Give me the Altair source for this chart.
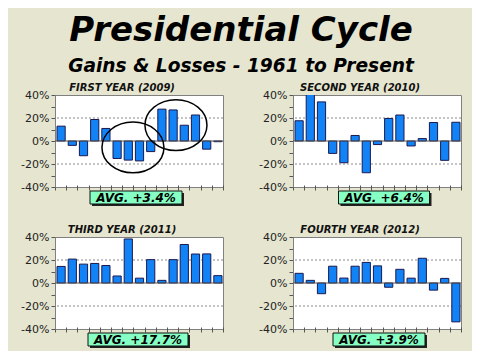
import altair as alt
import pandas as pd

# ---- data (annual % change) ----
FIRST = [12.9, -3.8, -12.8, 18.7, 10.9, -15.2, -16.6, -17.3, -9.2, 27.7, 27.0, 13.7, 22.6, -7.1, -0.6]
SECOND = [17.6, 44.0, 34.0, -10.8, -18.9, 4.8, -27.6, -3.1, 19.6, 22.6, -4.3, 2.1, 16.1, -16.8, 16.3]
THIRD = [14.4, 20.8, 16.4, 17.0, 15.2, 6.1, 38.3, 4.2, 20.3, 2.3, 20.3, 33.5, 25.2, 25.3, 6.4]
FOURTH = [8.4, 2.3, -9.3, 14.6, 4.3, 14.6, 17.9, 14.9, -3.7, 11.9, 4.2, 21.5, -6.2, 4.0, -33.8]

PANEL_TITLES = ["FIRST YEAR (2009)", "SECOND YEAR (2010)", "THIRD YEAR (2011)", "FOURTH YEAR (2012)"]
AVG_LABELS = ["AVG. +3.4%", "AVG. +6.4%", "AVG. +17.7%", "AVG. +3.9%"]
MAIN_TITLE = "Presidential Cycle"
SUBTITLE = "Gains & Losses - 1961 to Present"

Y_TICKS = [-40, -30, -20, -10, 0, 10, 20, 30, 40]
GRID_LEVELS = [-20, 20]
ZERO_LEVEL = [0]

# annotation ellipses on the first panel (slot units, % units)
CIRCLE_X = [6.96, 10.8]
CIRCLE_Y = [-5.6, 13.8]

# ---- styles / layout ----
FONT = "DejaVu Sans"
CREAM = "#E6E6D0"
BLUE = "#1283F7"
EDGE = "#1A1A50"
GREEN = "#86FFC4"
W, H = 168, 92
BOX_CX = [81, 91, 83, 86]
BOX_W = [92, 91, 100, 92]
ELLIPSE = "M -1 0 A 1 0.82 0 1 1 1 0 A 1 0.82 0 1 1 -1 0 Z"

yscale = alt.Scale(domain=[-40, 40], nice=False, zero=False)


def yaxis():
    return alt.Axis(values=Y_TICKS, labelExpr="datum.value % 20 === 0 ? datum.value + '%' : ''",
                    title=None, grid=False, tickSize=4, tickColor="#555", domainColor="#808080",
                    labelFont=FONT, labelFontSize=11, labelColor="#222", labelPadding=2)


def panel(values, title, avg, cx, bw, circles=False):
    n = len(values)
    xscale = alt.Scale(domain=[0, n], nice=False, zero=False)
    xaxis = alt.Axis(values=list(range(n + 1)), labels=False, title=None, domain=False,
                     grid=False, tickSize=5, offset=-2, tickColor="#555")
    df = pd.DataFrame({"start": list(range(n)), "end": list(range(1, n + 1)), "value": values})

    grid = alt.Chart(pd.DataFrame({"v": GRID_LEVELS})).mark_rule(
        color="#8a8a8a", strokeDash=[2, 2], strokeWidth=1
    ).encode(y=alt.Y("v:Q", scale=yscale, axis=yaxis()))

    bars = alt.Chart(df).mark_bar(binSpacing=3, clip=True, fill=BLUE, stroke=EDGE, strokeWidth=1).encode(
        x=alt.X("start:Q", bin="binned", scale=xscale, axis=xaxis),
        x2="end:Q",
        y=alt.Y("value:Q", scale=yscale, axis=yaxis()),
    )

    zero = alt.Chart(pd.DataFrame({"v": ZERO_LEVEL})).mark_rule(color="#555", strokeWidth=1).encode(
        y=alt.Y("v:Q", scale=yscale, axis=yaxis())
    )

    layers = [grid, bars, zero]

    if circles:
        cdf = pd.DataFrame({"cx": CIRCLE_X, "cy": CIRCLE_Y})
        ell = alt.Chart(cdf).mark_point(shape=ELLIPSE, filled=False, stroke="black", strokeWidth=1.5,
                                        size=3844, opacity=1).encode(
            x=alt.X("cx:Q", scale=xscale, axis=xaxis),
            y=alt.Y("cy:Q", scale=yscale, axis=yaxis()),
        )
        layers.append(ell)

    adf = pd.DataFrame({"label": [avg]})
    shadow = alt.Chart(adf).mark_rect(fill="#222").encode(
        x=alt.value(cx - bw / 2 + 2), x2=alt.value(cx + bw / 2 + 2),
        y=alt.value(H + 6), y2=alt.value(H + 19))
    box = alt.Chart(adf).mark_rect(fill=GREEN, stroke="#111", strokeWidth=1).encode(
        x=alt.value(cx - bw / 2), x2=alt.value(cx + bw / 2),
        y=alt.value(H + 4), y2=alt.value(H + 17))
    txt = alt.Chart(adf).mark_text(font=FONT, fontSize=12, fontWeight="bold", fontStyle="italic",
                                   color="black", align="center", baseline="middle").encode(
        x=alt.value(cx), y=alt.value(H + 11), text="label:N")
    layers += [shadow, box, txt]

    return alt.layer(*layers).properties(
        width=W, height=H,
        title=alt.TitleParams(title, font=FONT, fontSize=10, fontWeight="bold", fontStyle="italic",
                              color="#111", anchor="middle", frame="bounds", offset=-4),
    )


p1 = panel(FIRST, PANEL_TITLES[0], AVG_LABELS[0], BOX_CX[0], BOX_W[0], circles=True)
p2 = panel(SECOND, PANEL_TITLES[1], AVG_LABELS[1], BOX_CX[1], BOX_W[1])
p3 = panel(THIRD, PANEL_TITLES[2], AVG_LABELS[2], BOX_CX[2], BOX_W[2])
p4 = panel(FOURTH, PANEL_TITLES[3], AVG_LABELS[3], BOX_CX[3], BOX_W[3])

row1 = alt.hconcat(p1, p2, spacing=34)
row2 = alt.hconcat(p3, p4, spacing=34)

chart = alt.vconcat(row1, row2, spacing=17).properties(
    title=alt.TitleParams(MAIN_TITLE, subtitle=SUBTITLE, font=FONT, fontSize=34, fontWeight="bold",
                          fontStyle="italic", color="black", subtitleFont=FONT, subtitleFontSize=18.6,
                          subtitleFontWeight="bold", subtitleFontStyle="italic", subtitleColor="black",
                          subtitlePadding=9, anchor="middle", offset=7),
    background=CREAM,
    padding={"left": 12, "top": 5, "right": 10, "bottom": 2},
).configure_view(fill="white", stroke="#808080", strokeWidth=1)

chart.save("out.html", embed_options={"renderer": "svg", "actions": False})
